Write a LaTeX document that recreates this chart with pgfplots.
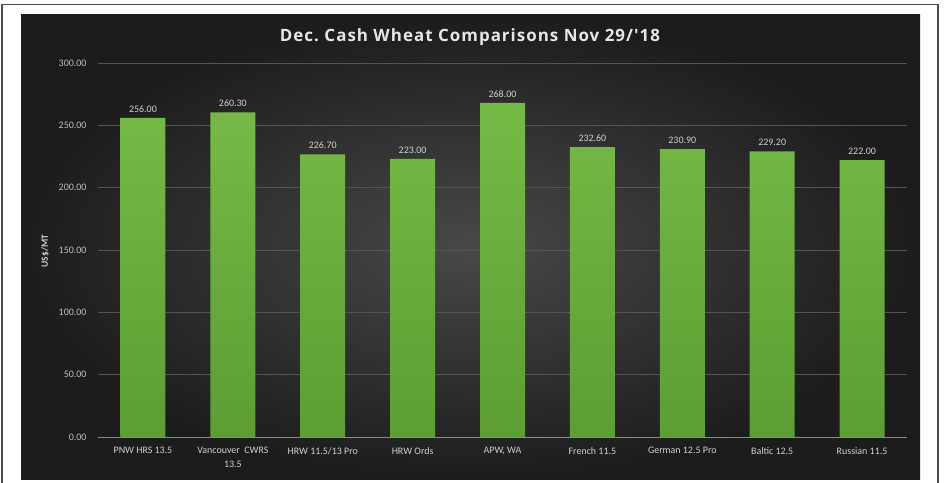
\documentclass[border=0pt]{standalone}
\usepackage{pgfplots}
\pgfplotsset{compat=1.18}
\usepackage{fontspec}
\setmainfont{Carlito}
\newfontfamily\titlefont[LetterSpace=6]{Open Sans}
\definecolor{bgin}{HTML}{484848}
\definecolor{bgout}{HTML}{1C1C1C}
\definecolor{gridcol}{HTML}{545454}
\definecolor{axcol}{HTML}{8A8A8A}
\definecolor{tickcol}{HTML}{BDBDBD}
\definecolor{lblcol}{HTML}{D0D0D0}
\definecolor{titlecol}{HTML}{E6E6E6}
\definecolor{bartop}{HTML}{76BA46}
\definecolor{barbot}{HTML}{5C9E33}
\begin{document}
\begin{tikzpicture}[x=1bp,y=1bp]
\path[use as bounding box] (0,0) rectangle (944,483);
\fill[white] (0,0) rectangle (944,483);
\shade[inner color=bgin, outer color=bgout] (21,3) rectangle (920,468);
\draw[black!70, line width=1.3bp] (2,0) -- (2,478.5) -- (938,478.5) -- (938,0);
\node[font=\titlefont\bfseries\fontsize{17}{20}\selectfont, text=titlecol] at (470,446) {Dec.\ Cash Wheat Comparisons Nov 29/'18};
\node[rotate=90, font=\bfseries\fontsize{9.5}{11}\selectfont, text=lblcol] at (45,232) {US\$/MT};
\begin{axis}[
  at={(98bp,46bp)}, anchor=south west,
  scale only axis, width=809bp, height=374bp,
  ybar, bar width=45bp,
  xmin=-0.5, xmax=8.5, ymin=0, ymax=300,
  enlarge x limits=false,
  axis x line*=bottom, axis y line*=left,
  y axis line style={draw=none},
  x axis line style={draw=axcol, line width=0.8bp},
  major tick length=0pt,
  ytick={0,50,100,150,200,250,300},
  yticklabels={0.00,50.00,100.00,150.00,200.00,250.00,300.00},
  yticklabel style={font=\fontsize{10}{11}\selectfont, text=tickcol, xshift=-8bp},
  xtick=data,
  xticklabels={PNW HRS 13.5,{Vancouver\ \ CWRS\\13.5},HRW 11.5/13 Pro,HRW Ords,{APW, WA},French 11.5,German 12.5 Pro,Baltic 12.5,Russian 11.5},
  xticklabel style={font=\fontsize{10}{14}\selectfont, text=lblcol, align=center, anchor=north, yshift=-7bp},
  ymajorgrids, major grid style={draw=gridcol, line width=0.8bp},
  /pgf/number format/assume math mode=true,
  nodes near coords={\pgfmathprintnumber[fixed,fixed zerofill,precision=2]{\pgfplotspointmeta}},
  nodes near coords style={font=\fontsize{10}{12}\selectfont, text=lblcol, anchor=south, yshift=2bp},
]
\addplot[draw=none, top color=bartop, bottom color=barbot] coordinates {
(0,256.0) (1,260.3) (2,226.7) (3,223.0) (4,268.0) (5,232.6) (6,230.9) (7,229.2) (8,222.0)};
\end{axis}
\end{tikzpicture}
\end{document}
